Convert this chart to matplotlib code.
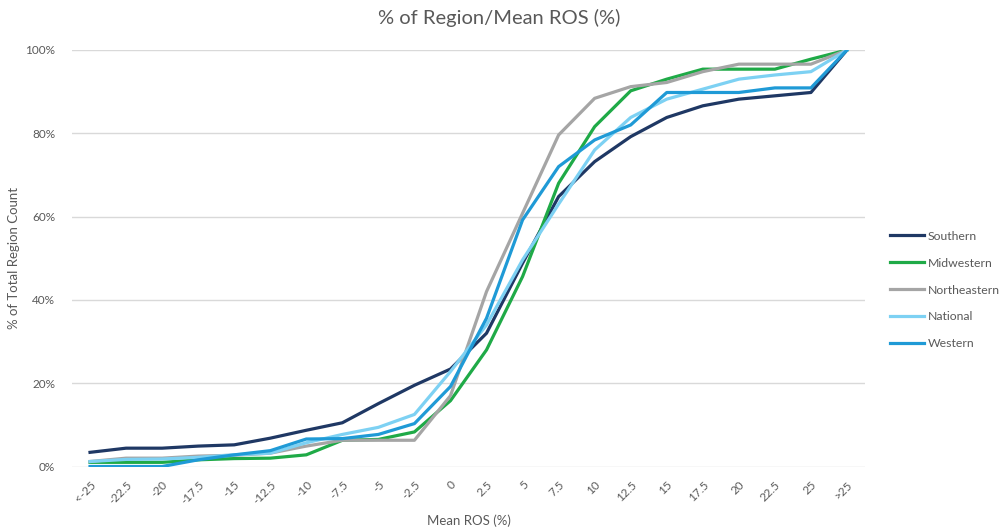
import matplotlib
matplotlib.use("Agg")
import matplotlib.pyplot as plt
from matplotlib.ticker import PercentFormatter

categories = ["<-25", "-22.5", "-20", "-17.5", "-15", "-12.5", "-10", "-7.5", "-5", "-2.5",
              "0", "2.5", "5", "7.5", "10", "12.5", "15", "17.5", "20", "22.5", "25", ">25"]

southern     = [3.4, 4.4, 4.4, 4.9, 5.2, 6.8, 8.7, 10.5, 15.1, 19.5, 23.4, 32.0, 48.8, 64.8, 73.2, 79.2, 83.8, 86.6, 88.2, 89.0, 89.8, 100]
midwestern   = [1.0, 1.0, 1.0, 1.6, 1.9, 2.0, 2.8, 6.3, 6.5, 8.3, 15.8, 28.0, 45.6, 68.0, 81.6, 90.2, 93.0, 95.4, 95.4, 95.4, 97.8, 100]
northeastern = [1.2, 2.0, 2.0, 2.5, 2.7, 3.2, 4.9, 6.3, 6.3, 6.3, 17.0, 42.0, 60.8, 79.6, 88.4, 91.2, 92.2, 94.8, 96.6, 96.6, 96.6, 100]
national     = [1.2, 1.7, 1.8, 2.2, 2.8, 3.2, 5.7, 7.7, 9.4, 12.5, 22.8, 34.0, 49.6, 63.0, 76.0, 83.8, 88.2, 90.6, 93.0, 94.0, 94.8, 100]
western      = [0.0, 0.0, 0.0, 1.6, 2.8, 3.8, 6.6, 6.7, 7.7, 10.3, 19.2, 35.6, 59.2, 72.0, 78.4, 82.0, 89.8, 89.8, 89.8, 90.9, 90.9, 100]

series = [
    ("Southern", southern, "#1F3864"),
    ("Midwestern", midwestern, "#1FAA47"),
    ("Northeastern", northeastern, "#A5A5A5"),
    ("National", national, "#7DD1F3"),
    ("Western", western, "#1F9AD6"),
]

plt.rcParams["font.family"] = ["Lato", "DejaVu Sans"]
text_color = "#595959"

fig = plt.figure(figsize=(9.99, 5.31), dpi=100)
ax = fig.add_axes([72 / 999, 1 - 466.5 / 531, 793 / 999, 416.5 / 531])

x = list(range(len(categories)))
for name, vals, color in series:
    ax.plot(x, vals, color=color, lw=2.3, label=name, solid_joinstyle="round")

ax.set_xlim(-0.5, len(categories) - 0.5)
ax.set_ylim(0, 100)
ax.set_yticks([0, 20, 40, 60, 80, 100])
ax.yaxis.set_major_formatter(PercentFormatter(decimals=0))
ax.set_xticks(x)
ax.set_xticklabels(categories, rotation=45, ha="right", rotation_mode="anchor")
ax.tick_params(axis="both", length=0, colors=text_color, labelsize=8.5)
ax.tick_params(axis="x", pad=9)
ax.tick_params(axis="y", pad=12)
ax.grid(axis="y", color="#D9D9D9", lw=1)
ax.set_axisbelow(True)
for s in ax.spines.values():
    s.set_visible(False)

fig.text(0.5, 1 - 18 / 531, "% of Region/Mean ROS (%)", fontsize=14.5,
         color=text_color, ha="center", va="center")
ax.set_xlabel("Mean ROS (%)", fontsize=9.5, color=text_color, labelpad=6)
ax.set_ylabel("% of Total Region Count", fontsize=9.5, color=text_color, labelpad=4)

leg = ax.legend(loc="center left", bbox_to_anchor=(884 / 999, 1 - 290 / 531),
                bbox_transform=fig.transFigure, frameon=False,
                fontsize=8.8, handlelength=2.8, handletextpad=0.25, labelspacing=1.3,
                borderpad=0, labelcolor=text_color)

fig.savefig("out.png", dpi=100)
